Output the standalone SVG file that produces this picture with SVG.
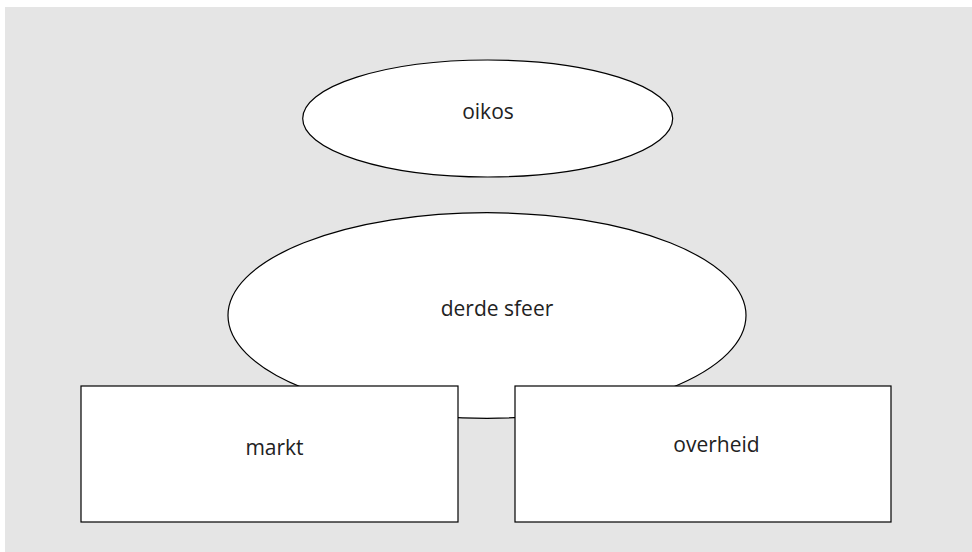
<svg xmlns="http://www.w3.org/2000/svg" width="972" height="552" viewBox="0 0 972 552">
<style>
.shape{fill:#ffffff;stroke:#000000;stroke-width:1.2}
.lbl{font-family:"Open Sans","DejaVu Sans",sans-serif;font-size:21px;fill:#222222;text-anchor:middle}
</style>
<rect x="5" y="7" width="967" height="545" fill="#e5e5e5"/>
<g id="connectors"></g>
<g id="oikos">
<ellipse class="shape" cx="487.7" cy="118.5" rx="185" ry="58.5"/>
<text class="lbl" x="488" y="119">oikos</text>
</g>
<g id="derde-sfeer">
<ellipse class="shape" cx="487" cy="315.5" rx="259" ry="102.8"/>
<text class="lbl" x="497" y="316">derde sfeer</text>
</g>
<g id="markt">
<rect class="shape" x="81" y="386" width="377" height="136"/>
<text class="lbl" x="274.5" y="455">markt</text>
</g>
<g id="overheid">
<rect class="shape" x="515" y="386" width="376" height="136"/>
<text class="lbl" x="716.5" y="452">overheid</text>
</g>
</svg>
